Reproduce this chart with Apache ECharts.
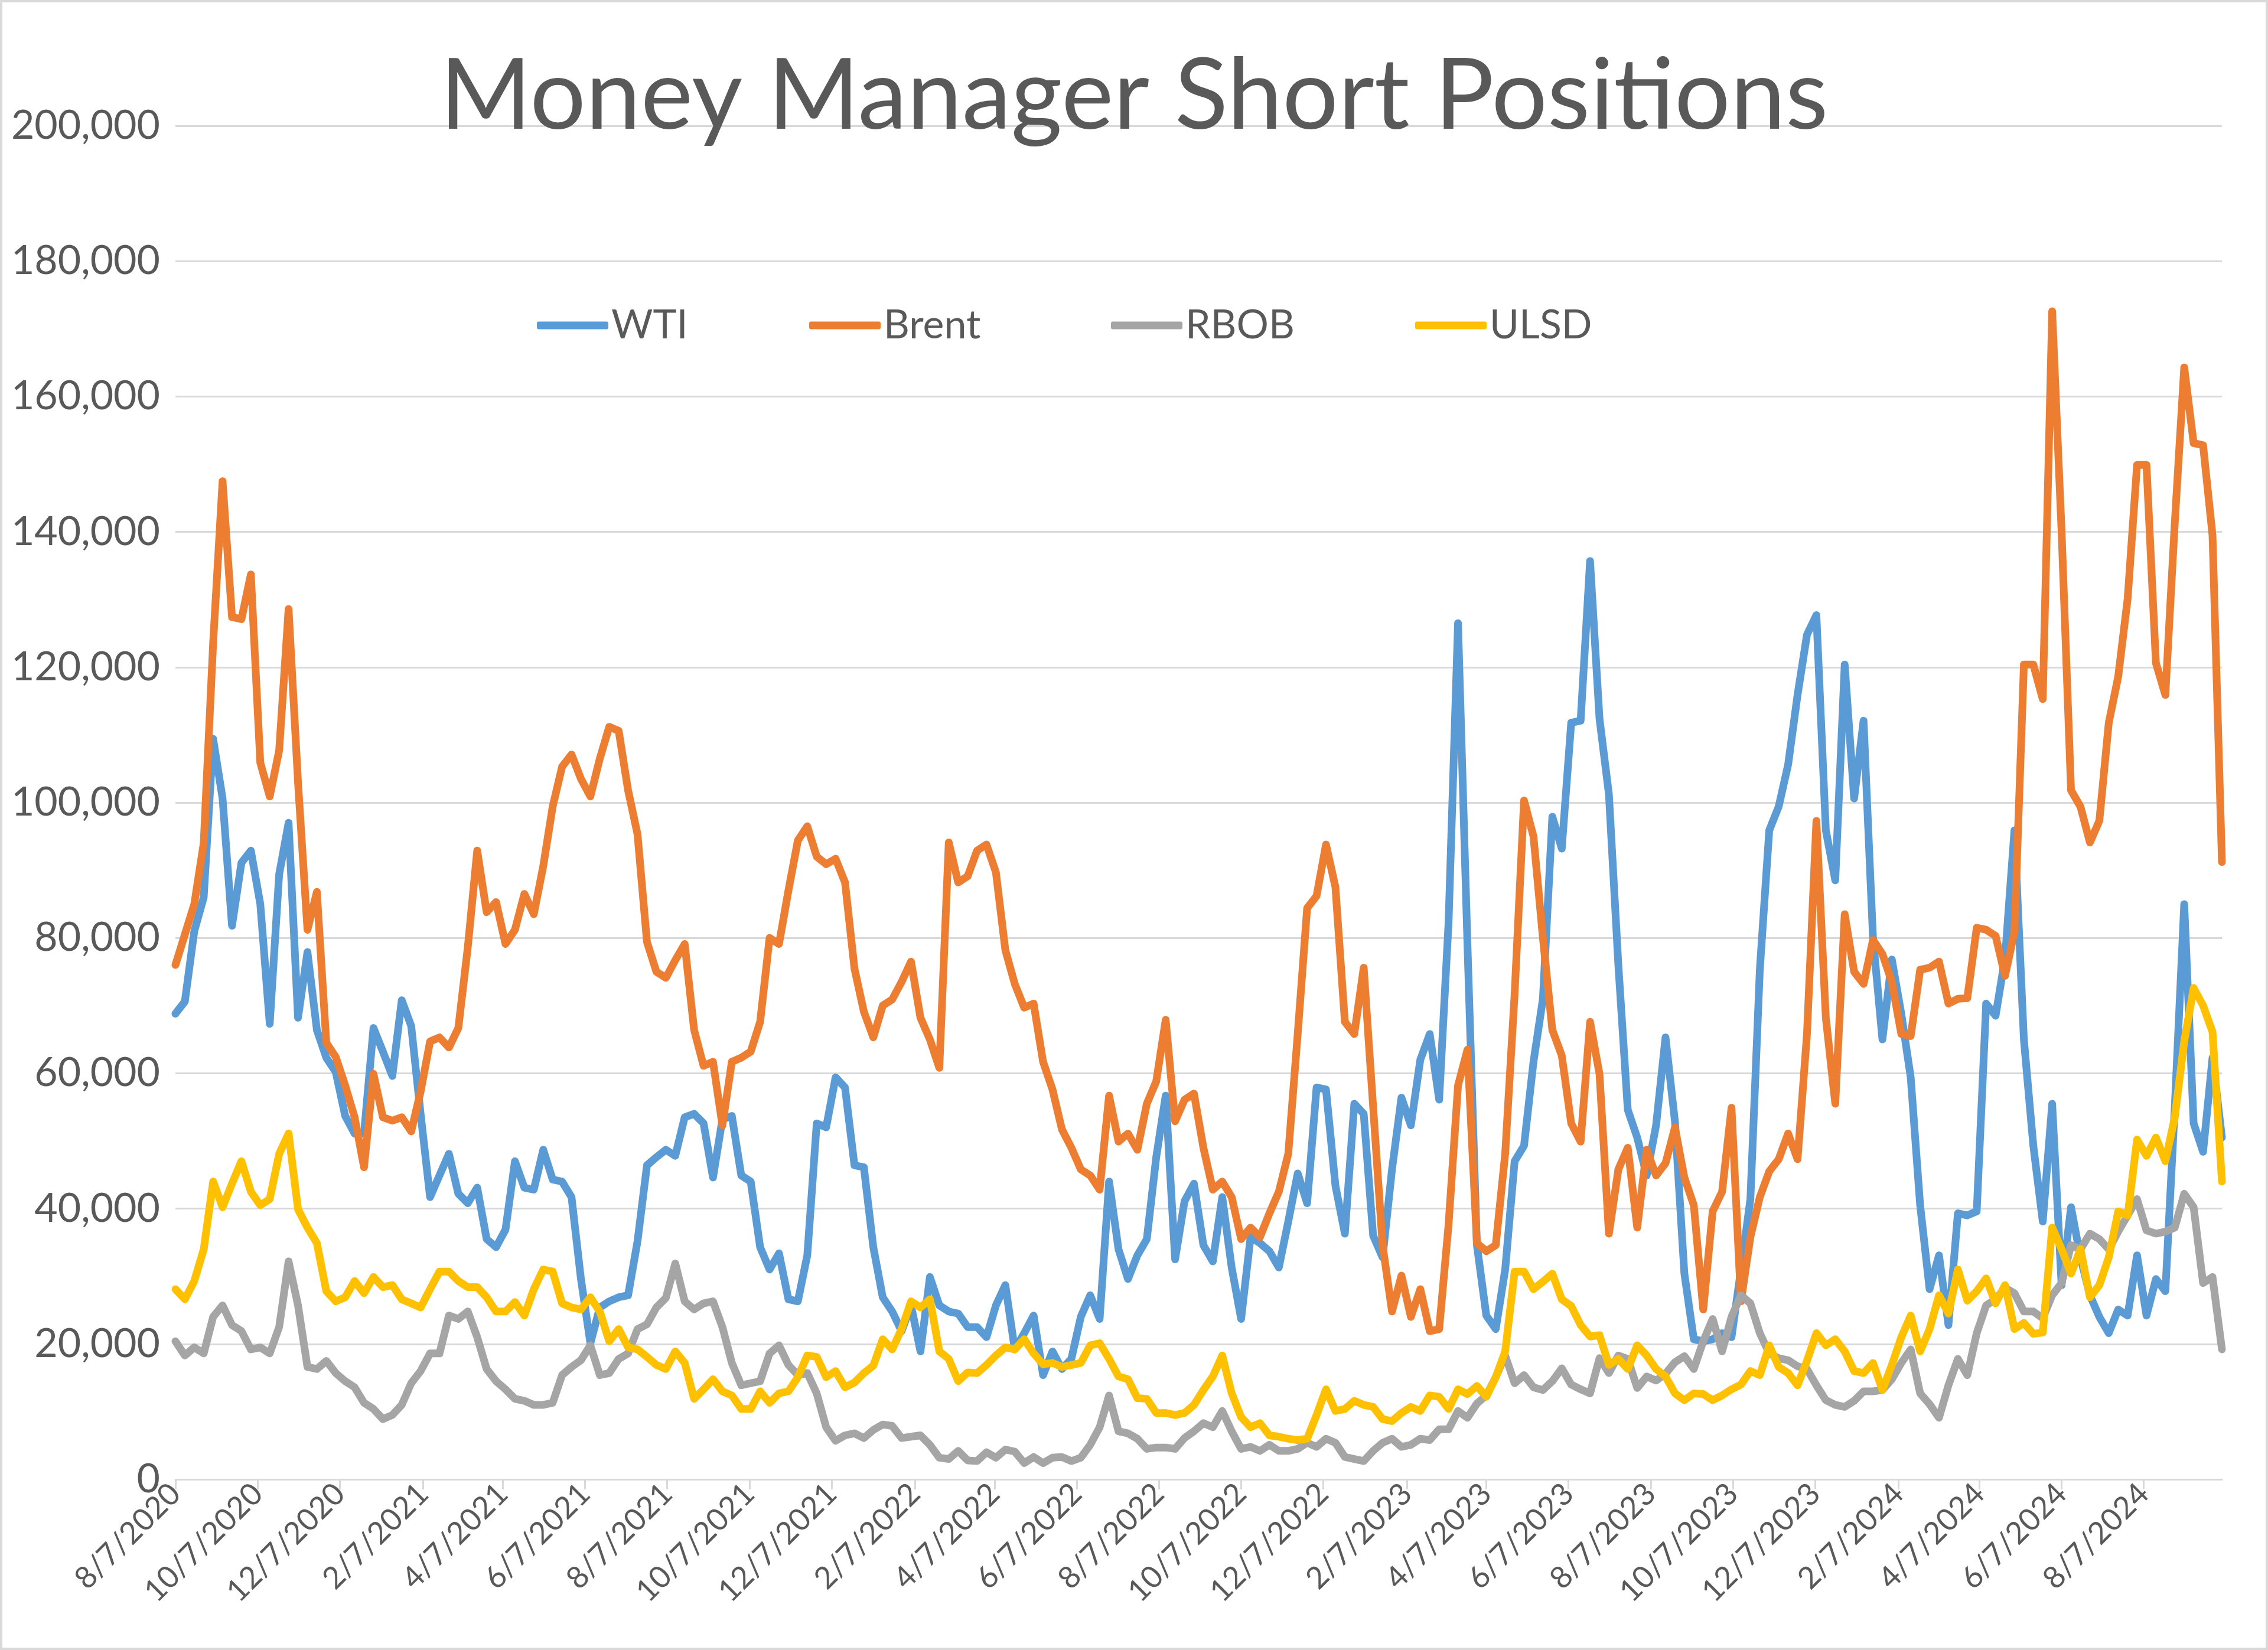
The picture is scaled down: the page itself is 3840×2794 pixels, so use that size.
<!DOCTYPE html>
<html>
<head>
<meta charset="utf-8">
<script src="https://cdn.jsdelivr.net/npm/echarts@6/dist/echarts.min.js"></script>
<style>
  html, body { margin: 0; padding: 0; background: #fff; }
  #chart { width: 3840px; height: 2794px; }
</style>
</head>
<body>
<div id="chart"></div>
<script>
// weekly report dates, first and last week shown on the axis
var startDate = Date.UTC(2020, 7, 7);
var endDate = Date.UTC(2024, 9, 4);
var WEEK = 7 * 86400000;

var seriesNames = ['WTI', 'Brent', 'RBOB', 'ULSD'];
var seriesColors = ['#5B9BD5', '#ED7D31', '#A5A5A5', '#FFC000'];

var wti = [68800,70600,81000,86000,109400,100600,81800,91100,92900,85000,
  67300,89400,97000,68200,77900,66400,62300,60200,53700,51100,
  51100,66700,63200,59600,70800,67000,54000,41700,44900,48100,
  42200,40800,43100,35500,34300,36900,47000,43100,42800,48700,
  44300,44000,41700,29600,20100,25400,26300,26900,27200,35200,
  46400,47600,48700,47800,53500,54000,52600,44600,53200,53700,
  44900,44000,34300,31000,33400,26600,26300,33100,52600,52000,
  59400,57900,46400,46100,34300,26900,24800,21900,25700,18900,
  29900,25700,24800,24500,22500,22500,21000,25700,28700,19200,
  21600,24200,15400,18900,16300,17800,24000,27200,23700,44000,
  34000,29600,33100,35500,47600,56700,32500,41100,43700,34600,
  32200,41700,31300,23700,35800,34900,33700,31300,38100,45200,
  40800,57900,57600,43400,36300,55500,54000,36000,32800,45800,
  56400,52300,62000,65800,56100,82400,126500,79000,34600,24200,
  22200,31000,47000,49300,61700,71000,97900,93200,111800,112100,
  135700,112400,101200,76000,54600,50500,44900,52300,65300,52900,
  30400,20700,20400,20700,21600,21000,31000,41400,75300,95900,
  99400,105600,115900,124800,127700,95900,88500,120400,100600,112100,
  80000,65000,76800,68800,59400,40500,28100,33100,22800,39300,
  39000,39600,70300,68500,77000,95900,65000,49300,38100,55500,
  28700,40200,32800,27200,24000,21600,25100,24200,33100,24200,
  29600,27800,55000,85000,52600,48400,62300,50500];

var brent = [76000,80500,85000,94000,123600,147500,127400,127100,133700,105900,
  100900,107700,128600,103000,81200,86800,64500,62400,58200,53500,
  46100,59900,53500,53000,53500,51400,57300,64700,65300,63800,
  66700,78600,92900,83800,85300,79100,81200,86500,83500,90600,
  99400,105300,107100,103500,100900,106500,111200,110600,101800,95300,
  79400,75000,74100,76700,79100,66400,61100,61700,52300,61700,
  62300,63200,67600,80000,79100,87000,94400,96500,92000,90900,
  91700,88200,75500,69100,65300,70000,70900,73500,76500,68200,
  65000,60800,94100,88200,89100,92900,93800,89700,78200,73200,
  69700,70300,61700,57600,51700,49000,45800,44900,42800,56700,
  49900,51100,48700,55500,58800,67900,52900,56100,57000,49000,
  42800,44000,41700,35500,37200,35800,39300,42500,48100,65800,
  84400,86200,93800,87500,67600,65800,75600,55000,34600,24800,
  30100,24000,28100,21900,22200,37700,58200,63500,34900,33700,
  34600,48100,71700,100300,95000,80000,66400,62600,52600,49900,
  67600,59900,36300,45800,49000,37200,48700,44900,46700,52000,
  44600,40500,25100,39600,42500,54900,26300,35800,41700,45500,
  47300,51100,47300,65800,97300,68200,55500,83500,75000,73200,
  79700,77600,73500,65800,65500,75300,75600,76500,70300,71000,
  71100,81500,81200,80300,74400,80900,120400,120400,115300,172600,
  140000,101800,99400,94100,97300,111800,118600,130100,149900,149900,
  120600,115900,141300,164300,153100,152800,139500,91200];

var rbob = [20400,18300,19500,18600,24000,25700,22800,21900,19200,19500,
  18600,22500,32200,25700,16600,16300,17500,15700,14500,13600,
  11300,10400,8900,9500,11000,14200,16000,18600,18600,24200,
  23700,24800,21000,16300,14500,13300,11900,11600,11000,11000,
  11300,15400,16600,17600,19800,15400,15700,17800,18600,22200,
  22900,25400,26800,31900,26300,25100,26000,26300,22500,17200,
  13900,14200,14500,18600,19800,16900,15400,15700,12700,7700,
  5700,6500,6800,6100,7300,8100,7900,6100,6300,6500,
  5100,3200,3000,4200,2800,2700,4000,3200,4400,4100,
  2400,3300,2400,3200,3300,2700,3200,5100,7700,12400,
  7100,6800,6000,4500,4700,4700,4500,6100,7100,8300,
  7700,10100,7100,4500,4800,4200,5100,4200,4200,4500,
  5400,4800,6000,5400,3300,3000,2700,4200,5400,6000,
  4800,5100,6000,5800,7400,7400,10100,9100,11200,12400,
  15100,18300,14200,15400,13600,13200,14500,16400,14000,13300,
  12700,17900,15700,18300,17800,13500,15200,14600,15600,17300,
  18200,16300,20400,23700,18900,24000,27200,26000,21600,18600,
  17900,17600,16700,16300,13900,11700,11000,10700,11600,13000,
  13000,13200,14800,17200,19200,12700,11100,9100,13900,17800,
  15400,21600,25700,26600,28300,27500,24800,24800,23800,27200,
  29000,34600,34000,36300,35500,34000,36600,39000,41400,36800,
  36300,36600,37200,42200,40200,29000,29900,19200];

var ulsd = [28100,26600,29300,34000,44000,40200,43700,47000,42500,40500,
  41400,48100,51100,39900,37200,34900,27800,26300,26900,29300,
  27500,29900,28400,28700,26600,26000,25400,28100,30700,30700,
  29300,28400,28400,26900,24800,24800,26200,24200,28100,31000,
  30700,26000,25400,25100,26900,24800,20400,22200,19500,19200,
  18100,16900,16300,18900,17200,11900,13300,14800,13000,12400,
  10400,10400,13000,11300,12700,13000,15100,18300,18100,15100,
  16000,13600,14300,15700,16800,20700,19200,22200,26300,25400,
  26600,18900,17800,14500,15800,15700,16900,18300,19500,19200,
  20700,18600,17000,17200,16600,16900,17200,19800,20100,17800,
  15200,14800,12000,11900,9800,9800,9500,9800,11000,13200,
  15200,18300,12700,9200,7700,8300,6500,6300,6000,5800,
  6000,9500,13300,10100,10400,11600,11000,10700,8900,8600,
  9800,10700,10100,12400,12200,10400,13300,12600,13800,12200,
  15100,18900,30700,30700,28100,29200,30400,26600,25600,22800,
  21100,21300,16900,17800,16300,19800,18300,16300,15200,12700,
  11700,12700,12600,11700,12400,13300,14000,16000,15400,19800,
  16600,15700,13900,17500,21600,19800,20700,18900,16000,15700,
  17200,13200,16900,21000,24200,18900,22200,27200,24500,31000,
  26400,27800,29700,26000,28700,22200,23100,21500,21700,37200,
  34000,30400,34000,26900,28700,32800,39600,39000,50200,47800,
  50500,47000,53500,64700,72600,70000,66100,44000];

// x tick labels every 2 months from 8/7/2020
var tickDates = [];
for (var k = 0; k < 25; k++) {
    tickDates.push(Date.UTC(2020, 7 + 2 * k, 7));
}

function toPairs(values) {
    return values.map(function (v, i) {
        return [startDate + i * WEEK, v];
    });
}

function fmtDate(v) {
    var d = new Date(v);
    return (d.getUTCMonth() + 1) + '/' + d.getUTCDate() + '/' + d.getUTCFullYear();
}

function fmtNum(v) {
    return String(v).replace(/\B(?=(\d{3})+(?!\d))/g, ',');
}

var myChart = echarts.init(document.getElementById('chart'));

// one legend per item so each one sits where the original has it
var legendLeft = [904, 1365, 1876, 2391];
var legends = seriesNames.map(function (name, i) {
    return {
        data: [name],
        left: legendLeft[i],
        top: 512,
        icon: 'roundRect',
        itemWidth: 121,
        itemHeight: 13,
        textStyle: {
            color: '#595959',
            fontFamily: 'Lato',
            fontSize: 68
        },
        selectedMode: false
    };
});

var lists = [wti, brent, rbob, ulsd];
var series = seriesNames.map(function (name, i) {
    return {
        name: name,
        type: 'line',
        data: toPairs(lists[i]),
        showSymbol: false,
        symbol: 'none',
        color: seriesColors[i],
        lineStyle: {
            width: 13,
            color: seriesColors[i],
            join: 'round',
            cap: 'round'
        },
        animation: false
    };
});

option = {
    backgroundColor: '#fff',
    animation: false,
    title: {
        text: 'Money Manager Short Positions',
        left: 'center',
        top: 76,
        textStyle: {
            color: '#595959',
            fontFamily: 'Lato',
            fontWeight: 'normal',
            fontSize: 167
        }
    },
    legend: legends,
    grid: {
        left: 297,
        right: 78,
        top: 213,
        bottom: 289,
        outerBoundsMode: 'none'
    },
    xAxis: {
        type: 'value',
        min: startDate,
        max: endDate,
        splitLine: { show: false },
        axisLine: { lineStyle: { color: '#D9D9D9', width: 3 } },
        axisTick: {
            show: true,
            customValues: tickDates,
            length: 17,
            lineStyle: { color: '#D9D9D9', width: 3 }
        },
        axisLabel: {
            customValues: tickDates,
            rotate: 45,
            margin: 16,
            color: '#595959',
            fontFamily: 'Lato',
            fontSize: 52,
            formatter: fmtDate
        }
    },
    yAxis: {
        type: 'value',
        min: 0,
        max: 200000,
        interval: 20000,
        axisLine: { show: false },
        axisTick: { show: false },
        splitLine: { lineStyle: { color: '#D9D9D9', width: 3 } },
        axisLabel: {
            margin: 26,
            color: '#595959',
            fontFamily: 'Lato',
            fontSize: 68,
            formatter: fmtNum
        }
    },
    graphic: [{
        type: 'rect',
        shape: { x: 2, y: 2, width: 3836, height: 2790 },
        style: { fill: 'none', stroke: '#D9D9D9', lineWidth: 4 },
        silent: true
    }],
    series: series
};

myChart.setOption(option);
</script>
</body>
</html>
